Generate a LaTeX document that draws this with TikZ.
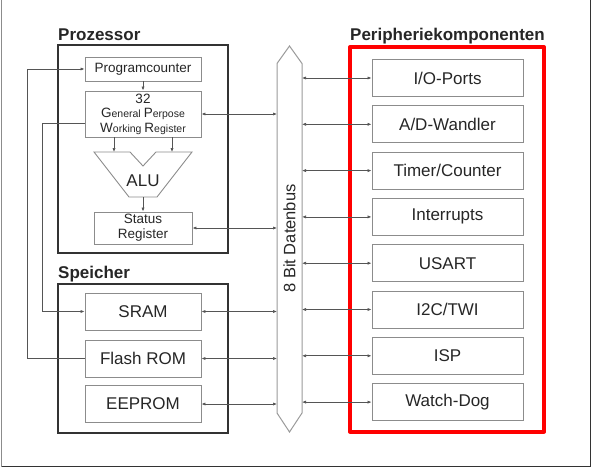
\documentclass[tikz,border=0pt]{standalone}
\usepackage{fontspec}
\setmainfont{Liberation Sans}
\usetikzlibrary{arrows.meta}
\definecolor{boxgray}{HTML}{8C8C8C}
\definecolor{framedark}{HTML}{333333}
\definecolor{conngray}{HTML}{555555}
\definecolor{busgray}{HTML}{9A9A9A}
\definecolor{redbox}{HTML}{FF0000}
\tikzset{
  box/.style={draw=boxgray, line width=0.9pt, minimum width=116pt, minimum height=37pt,
              inner sep=0pt, font=\fontsize{17}{20}\selectfont, text=black!85},
  pbox/.style={box, minimum width=151pt},
  smallbox/.style={box, font=\fontsize{13.5}{15}\selectfont, align=center},
  group/.style={draw=framedark, line width=2pt},
  title/.style={font=\bfseries\fontsize{17}{20}\selectfont, anchor=base west, inner sep=0pt, text=black!85},
  arr/.style={draw=conngray, line width=0.7pt, -{Latex[length=4pt,width=3.2pt]}},
  biarr/.style={draw=conngray, line width=0.7pt, {Latex[length=4pt,width=3.2pt]}-{Latex[length=4pt,width=3.2pt]}},
}
\begin{document}
\begin{tikzpicture}[x=1pt,y=-1pt]
\useasboundingbox (0,0) rectangle (593,468);
% outer frame
\draw[boxgray, line width=1pt] (1.5,0) -- (1.5,466.5);
\draw[framedark, line width=1.5pt] (1.5,466.5) -- (590.5,466.5) -- (590.5,0);

% titles
\node[title] (tproz) at (58,41) {Prozessor};
\node[title] (tspei) at (58,278) {Speicher};
\node[title] (tperi) at (350,41) {Peripheriekomponenten};

% group boxes
\draw[group] (58.3,45) rectangle (228.3,253.3);
\draw[group] (58.3,284) rectangle (228.3,432.7);
\draw[draw=redbox, line width=4pt, line join=round] (350,47) rectangle (544,431.5);

% bus
\draw[busgray, line width=1pt] (277,413) -- (277,63.5) -- (289.5,46) -- (302,63.5) -- (302,413) -- (289.5,432) -- cycle;
\coordinate (busL) at (277,0);
\coordinate (busR) at (302,0);
\node[rotate=90, font=\fontsize{16.5}{18}\selectfont, text=black!85] (buslabel) at (289.5,238.5) {8 Bit Datenbus};

% processor
\node[smallbox, minimum height=24pt] (pc) at (143,69) {Programcounter};
\node[smallbox, minimum height=46pt, font=\fontsize{10.5}{14.5}\selectfont] (gpwr) at (143,114)
  {{\fontsize{13.5}{14.5}\selectfont 32}\\{\fontsize{13.5}{14.5}\selectfont G}eneral {\fontsize{13.5}{14.5}\selectfont P}erpose\\{\fontsize{13.5}{14.5}\selectfont W}orking {\fontsize{13.5}{14.5}\selectfont R}egister};
\node[smallbox, minimum width=98pt, minimum height=32pt] (status) at (143,228) {Status\\Register};
\draw[draw=boxgray, line width=0.9pt] (94,152) -- (130,152) -- (143,166) -- (156,152) -- (192,152) -- (157,197) -- (129,197) -- cycle;
\node[font=\fontsize{17}{20}\selectfont, text=black!85] (alu) at (143,181) {ALU};
\coordinate (aluTL) at (114,152);
\coordinate (aluTR) at (172,152);
\coordinate (aluB) at (143,197);

% memory
\node[box] (sram) at (143,311.5) {SRAM};
\node[box] (flash) at (143,358.5) {Flash ROM};
\node[box] (eeprom) at (143,404) {EEPROM};

% peripherals
\node[pbox] (io) at (447.5,78) {I/O-Ports};
\node[pbox] (ad) at (447.5,124.3) {A/D-Wandler};
\node[pbox] (timer) at (447.5,170.6) {Timer/Counter};
\node[pbox] (intr) at (447.5,216.9) {Interrupts};
\node[pbox] (usart) at (447.5,263.2) {USART};
\node[pbox] (i2c) at (447.5,309.5) {I2C/TWI};
\node[pbox] (isp) at (447.5,355.8) {ISP};
\node[pbox] (wd) at (447.5,402.1) {Watch-Dog};

% internal processor connectors
\draw[arr] (pc.south) -- (gpwr.north);
\draw[arr] (gpwr.south -| aluTL) -- (aluTL);
\draw[arr] (gpwr.south -| aluTR) -- (aluTR);
\draw[arr] (aluB) -- (status.north);

% bus connectors
\draw[biarr] (gpwr.east) -- (gpwr.east -| busL);
\draw[biarr] (status.east) -- (status.east -| busL);
\draw[biarr] (sram.east) -- (sram.east -| busL);
\draw[biarr] (flash.east) -- (flash.east -| busL);
\draw[biarr] (eeprom.east) -- (eeprom.east -| busL);
\foreach \n in {io,ad,timer,intr,usart,i2c,isp,wd}{
  \draw[biarr] (\n.west -| busR) -- (\n.west);
}

% feedback lines
\draw[arr] (flash.west) -- ++(-57,0) |- (pc.west);
\draw[arr] ([yshift=-9pt]gpwr.west) -- ++(-42,0) |- (sram.west);
\end{tikzpicture}
\end{document}
